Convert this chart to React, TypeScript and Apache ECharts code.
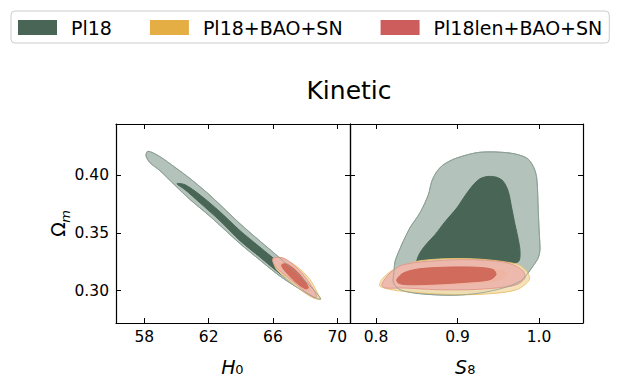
import React, { useEffect, useRef } from 'react';
import * as echarts from 'echarts';

const FONT = 'DejaVu Sans';

const LEGEND_NAMES = ['Pl18', 'Pl18+BAO+SN', 'Pl18len+BAO+SN'];
const LEGEND_COLORS = ['#486555', '#e5ae45', '#cd5c5c'];

const H0_TICKS = [58, 62, 66, 70];
const S8_TICKS = [0.8, 0.9, 1.0];
const OM_TICKS = [0.3, 0.35, 0.4];
const H0_RANGE = [56.24, 70.79];
const S8_RANGE = [0.768, 1.054];
const OM_RANGE = [0.272, 0.4446];

// H0 - Omega_m contours
const PL18_H0_OUTER = [[58.106,0.4171],[58.230,0.4210],[58.976,0.4162],[59.909,0.4070],[60.842,0.3973],[62.086,0.3827],[63.952,0.3581],[65.195,0.3430],[66.439,0.3282],[67.683,0.3126],[68.429,0.3024],[68.958,0.2927],[68.429,0.2954],[67.683,0.3013],[66.439,0.3126],[65.195,0.3265],[63.952,0.3408],[62.086,0.3645],[60.842,0.3791],[59.909,0.3914],[58.976,0.4041],[58.354,0.4110]];
const PL18_H0_INNER = [[60.034,0.3928],[60.531,0.3919],[61.464,0.3831],[62.708,0.3684],[63.952,0.3521],[65.195,0.3377],[66.439,0.3234],[67.372,0.3117],[67.870,0.3009],[67.372,0.3057],[66.439,0.3148],[65.195,0.3291],[63.952,0.3434],[62.708,0.3606],[61.464,0.3762],[60.531,0.3876]];
const BAO_H0_OUTER = [[66.022,0.3254],[66.128,0.3282],[66.439,0.3289],[67.478,0.3211],[68.305,0.3096],[68.821,0.2966],[68.970,0.2928],[68.616,0.2931],[67.888,0.2989],[67.061,0.3081],[66.234,0.3182]];
const BAO_H0_INNER = [[66.40,0.3240],[66.90,0.3235],[67.60,0.3160],[68.15,0.3070],[68.35,0.3000],[68.10,0.3000],[67.50,0.3060],[66.90,0.3140],[66.45,0.3200]];
const LEN_H0_OUTER = [[66.022,0.3284],[66.644,0.3284],[67.266,0.3226],[67.888,0.3139],[68.411,0.3038],[68.722,0.2951],[68.616,0.2937],[68.100,0.2980],[67.478,0.3052],[66.856,0.3124],[66.234,0.3197],[65.985,0.3254]];
const LEN_H0_INNER = [[66.545,0.3226],[66.856,0.3232],[67.478,0.3168],[67.994,0.3081],[68.199,0.3024],[67.994,0.3018],[67.478,0.3067],[66.955,0.3139],[66.607,0.3197]];

// S8 - Omega_m contours
const PL18_S8_OUTER = [[0.8212,0.3070],[0.8221,0.3168],[0.8233,0.3254],[0.8315,0.3399],[0.8417,0.3547],[0.8540,0.3677],[0.8642,0.3833],[0.8683,0.3948],[0.8745,0.4032],[0.8826,0.4093],[0.8990,0.4151],[0.9276,0.4201],[0.9644,0.4194],[0.9849,0.4151],[0.9930,0.4078],[0.9972,0.3977],[0.9991,0.3688],[1.0004,0.3486],[1.0012,0.3356],[0.9991,0.3286],[0.9930,0.3217],[0.9849,0.3139],[0.9767,0.3081],[0.9562,0.3024],[0.9276,0.2980],[0.8948,0.2961],[0.8540,0.2974],[0.8294,0.3009]];
const PL18_S8_INNER = [[0.8499,0.3252],[0.8540,0.3330],[0.8622,0.3408],[0.8724,0.3486],[0.8847,0.3599],[0.8990,0.3717],[0.9092,0.3824],[0.9194,0.3919],[0.9276,0.3971],[0.9374,0.3991],[0.9481,0.3984],[0.9562,0.3948],[0.9623,0.3861],[0.9665,0.3717],[0.9706,0.3573],[0.9746,0.3443],[0.9767,0.3341],[0.9746,0.3252],[0.9521,0.3225],[0.9153,0.3218],[0.8785,0.3218],[0.8540,0.3225]];
const BAO_S8_OUTER = [[0.8049,0.3038],[0.8070,0.3096],[0.8212,0.3182],[0.8540,0.3260],[0.9153,0.3278],[0.9726,0.3232],[0.9849,0.3168],[0.9881,0.3096],[0.9726,0.3009],[0.9358,0.2972],[0.8948,0.2966],[0.8335,0.2994]];
const BAO_S8_INNER = [[0.830,0.3090],[0.840,0.3150],[0.870,0.3190],[0.910,0.3200],[0.945,0.3190],[0.960,0.3150],[0.955,0.3100],[0.930,0.3070],[0.880,0.3050],[0.840,0.3050]];
const LEN_S8_OUTER = [[0.8070,0.3052],[0.8172,0.3154],[0.8335,0.3226],[0.8745,0.3260],[0.9153,0.3269],[0.9562,0.3249],[0.9726,0.3211],[0.9807,0.3168],[0.9828,0.3110],[0.9726,0.3052],[0.9481,0.3024],[0.9153,0.3009],[0.8745,0.3009],[0.8335,0.3024],[0.8110,0.3024]];
const LEN_S8_INNER = [[0.8254,0.3096],[0.8335,0.3154],[0.8540,0.3191],[0.8948,0.3206],[0.9276,0.3202],[0.9439,0.3182],[0.9472,0.3139],[0.9399,0.3096],[0.9153,0.3076],[0.8745,0.3058],[0.8377,0.3052],[0.8274,0.3067]];

function contour(name: string, pts: number[][], axis: number, fill: string, stroke: string, opacity: number) {
  return {
    type: 'custom',
    name,
    coordinateSystem: 'cartesian2d',
    xAxisIndex: axis,
    yAxisIndex: axis,
    data: pts,
    silent: true,
    itemStyle: { color: fill === 'none' ? stroke : fill },
    renderItem: (params: any, api: any) => {
      if (params.dataIndex !== 0) return null;
      const points = pts.map((p) => api.coord(p));
      return {
        type: 'polygon',
        shape: { points, smooth: 0.3 },
        style: { fill, stroke, lineWidth: 1, opacity },
      };
    },
  };
}

function panelSeries(axis: number, sets: number[][][]) {
  return [
    contour(LEGEND_NAMES[0], sets[0], axis, '#b3c3bb', '#8fa398', 1),
    contour(LEGEND_NAMES[0], sets[1], axis, '#486555', '#486555', 1),
    contour(LEGEND_NAMES[1], sets[2], axis, '#f4dfb2', '#e8c070', 0.92),
    contour(LEGEND_NAMES[1], sets[3], axis, '#e8b560', '#e8b560', 0.92),
    contour(LEGEND_NAMES[2], sets[4], axis, '#eeb4ac', '#df958c', 0.88),
    contour(LEGEND_NAMES[2], sets[5], axis, '#cf6757', '#cf6757', 0.95),
    contour(LEGEND_NAMES[0], sets[0], axis, 'none', '#8a9e93', 0.75),
  ];
}

const axisLineStyle = { show: true, lineStyle: { color: '#000', width: 1.2 } };
const tickStyle = (vals: number[]) => ({ show: true, inside: true, length: 5, customValues: vals, lineStyle: { color: '#000', width: 1 } });

function xAxis(grid: number, range: number[], ticks: number[], position: string, labels: boolean, digits: number) {
  return {
    type: 'value', gridIndex: grid, position, min: range[0], max: range[1],
    axisLine: axisLineStyle, axisTick: tickStyle(ticks), splitLine: { show: false },
    axisLabel: {
      show: labels, customValues: ticks, margin: 6, fontSize: 15.5, fontFamily: FONT, color: '#000',
      formatter: (v: number) => v.toFixed(digits),
    },
  };
}
function yAxis(grid: number, range: number[], ticks: number[], position: string, labels: boolean) {
  return {
    type: 'value', gridIndex: grid, position, min: range[0], max: range[1],
    axisLine: axisLineStyle, axisTick: tickStyle(ticks), splitLine: { show: false },
    axisLabel: {
      show: labels, customValues: ticks, margin: 7, fontSize: 15.5, fontFamily: FONT, color: '#000',
      formatter: (v: number) => v.toFixed(2),
    },
  };
}

export default function App() {
  const ref = useRef<HTMLDivElement>(null);
  useEffect(() => {
    document.body.style.margin = '0';
    const chart = echarts.init(ref.current!, null, { renderer: 'svg' });
    const option: any = {
      animation: false,
      backgroundColor: '#ffffff',
      legend: {
        left: 11, top: 11, orient: 'horizontal', icon: 'rect', itemWidth: 39, itemHeight: 15, itemGap: 38,
        padding: [7, 7, 6, 7], borderColor: '#cccccc', borderWidth: 1, borderRadius: 4, backgroundColor: '#fff',
        selectedMode: false,
        textStyle: { fontSize: 19, fontFamily: FONT, color: '#000', padding: [0, 0, 0, 9] },
        data: LEGEND_NAMES.map((n, i) => ({ name: n, itemStyle: { color: LEGEND_COLORS[i], borderWidth: 0 } })),
      },
      grid: [
        { left: 116, top: 124, width: 234, height: 199 },
        { left: 350, top: 124, width: 233, height: 199 },
      ],
      xAxis: [
        xAxis(0, H0_RANGE, H0_TICKS, 'bottom', true, 0),
        xAxis(1, S8_RANGE, S8_TICKS, 'bottom', true, 1),
        xAxis(0, H0_RANGE, H0_TICKS, 'top', false, 0),
        xAxis(1, S8_RANGE, S8_TICKS, 'top', false, 1),
      ],
      yAxis: [
        yAxis(0, OM_RANGE, OM_TICKS, 'left', true),
        yAxis(1, OM_RANGE, OM_TICKS, 'left', false),
        yAxis(0, OM_RANGE, OM_TICKS, 'right', false),
        yAxis(1, OM_RANGE, OM_TICKS, 'right', false),
      ],
      series: [
        ...panelSeries(0, [PL18_H0_OUTER, PL18_H0_INNER, BAO_H0_OUTER, BAO_H0_INNER, LEN_H0_OUTER, LEN_H0_INNER]),
        ...panelSeries(1, [PL18_S8_OUTER, PL18_S8_INNER, BAO_S8_OUTER, BAO_S8_INNER, LEN_S8_OUTER, LEN_S8_INNER]),
      ],
      graphic: [
        { type: 'text', x: 349, y: 90, style: { text: 'Kinetic', fontSize: 25, fontFamily: FONT, fill: '#000', align: 'center', verticalAlign: 'middle' } },
        { type: 'text', x: 228.5, y: 366.5, style: { text: 'H', fontSize: 19, fontStyle: 'italic', fontFamily: FONT, fill: '#000', align: 'center', verticalAlign: 'middle' } },
        { type: 'text', x: 239.5, y: 369.5, style: { text: '0', fontSize: 13, fontFamily: FONT, fill: '#000', align: 'center', verticalAlign: 'middle' } },
        { type: 'text', x: 461, y: 366.5, style: { text: 'S', fontSize: 19, fontStyle: 'italic', fontFamily: FONT, fill: '#000', align: 'center', verticalAlign: 'middle' } },
        { type: 'text', x: 471.5, y: 369.5, style: { text: '8', fontSize: 13, fontFamily: FONT, fill: '#000', align: 'center', verticalAlign: 'middle' } },
        { type: 'text', x: 58.3, y: 229.5, rotation: Math.PI / 2, style: { text: 'Ω', fontSize: 19, fontFamily: FONT, fill: '#000', align: 'center', verticalAlign: 'middle' } },
        { type: 'text', x: 65, y: 216.5, rotation: Math.PI / 2, style: { text: 'm', fontSize: 13, fontStyle: 'italic', fontFamily: FONT, fill: '#000', align: 'center', verticalAlign: 'middle' } },
      ],
    };
    chart.setOption(option);
    return () => chart.dispose();
  }, []);
  return <div ref={ref} style={{ width: 624, height: 386 }} />;
}
